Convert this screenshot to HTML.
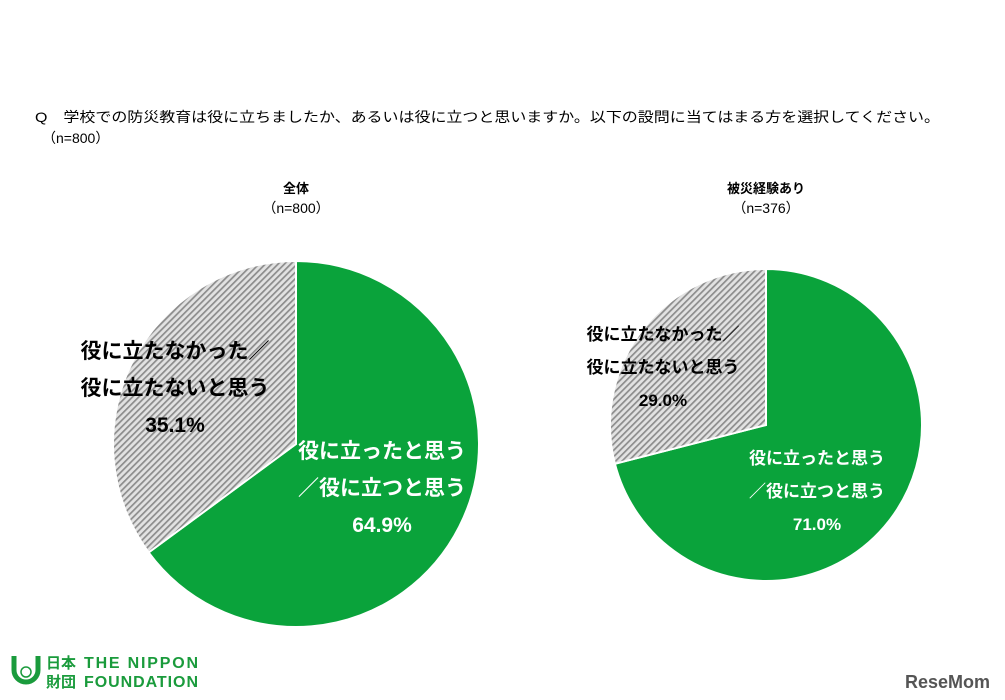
<!DOCTYPE html>
<html><head><meta charset="utf-8"><style>
body{margin:0;background:#fff;font-family:"Liberation Sans","Noto Sans CJK JP",sans-serif}
#wrap{position:relative;width:1005px;height:700px;overflow:hidden}
</style></head><body>
<div id="wrap">
<svg id="svg" width="1005" height="700" xmlns="http://www.w3.org/2000/svg">
<defs>
<pattern id="hatch" width="4.5" height="4.5" patternUnits="userSpaceOnUse" patternTransform="rotate(45)">
<rect width="4.5" height="4.5" fill="#e2e2e2"/>
<rect width="1.7" height="4.5" fill="#8c8c8c"/>
</pattern>
</defs>
<text x="35" y="122" font-size="14" fill="#000" textLength="905" lengthAdjust="spacingAndGlyphs">Q　学校での防災教育は役に立ちましたか、あるいは役に立つと思いますか。以下の設問に当てはまる方を選択してください。</text>
<text x="42" y="143" font-size="14" fill="#000">（n=800）</text>
<text x="296" y="193" font-size="13" font-weight="bold" text-anchor="middle">全体</text>
<text x="296" y="213" font-size="14" text-anchor="middle">（n=800）</text>
<text x="766" y="193" font-size="13" font-weight="bold" text-anchor="middle">被災経験あり</text>
<text x="766" y="213" font-size="14" text-anchor="middle">（n=376）</text>
<g id="pies"></g>
<g>
<path d="M14 656 v14 a12 12 0 0 0 24 0 v-14" fill="none" stroke="#1a9b3c" stroke-width="5"/>
<circle cx="26" cy="672" r="5" fill="none" stroke="#1a9b3c" stroke-width="1.5"/>
<text x="46" y="668" font-size="15" font-weight="bold" fill="#1a9b3c">日本</text>
<text x="46" y="687" font-size="15" font-weight="bold" fill="#1a9b3c">財団</text>
<text x="84" y="668" font-size="16" font-weight="bold" fill="#1a9b3c" textLength="114">THE NIPPON</text>
<text x="84" y="687" font-size="16" font-weight="bold" fill="#1a9b3c" textLength="114">FOUNDATION</text>
</g>
<text x="990" y="688" font-size="18" font-weight="bold" fill="#555" text-anchor="end">ReseMom</text>
</svg>
</div>
<script>
const chartNames = ["all", "affected"];
const helpfulValues = [64.9, 71.0];
const notHelpfulValues = [35.1, 29.0];
const centersX = [296, 766];
const centersY = [444, 425];
const radii = [183, 156];
const NS = "http://www.w3.org/2000/svg";
const g = document.getElementById("pies");
function pt(cx, cy, r, frac){const a = frac*2*Math.PI - Math.PI/2; return [cx + r*Math.cos(a), cy + r*Math.sin(a)];}
function slice(cx, cy, r, f0, f1, fill, name){
  const p0 = pt(cx,cy,r,f0), p1 = pt(cx,cy,r,f1);
  const large = (f1-f0) > 0.5 ? 1 : 0;
  const p = document.createElementNS(NS,"path");
  p.setAttribute("d", `M${cx},${cy} L${p0[0]},${p0[1]} A${r},${r} 0 ${large} 1 ${p1[0]},${p1[1]} Z`);
  p.setAttribute("fill", fill); p.setAttribute("stroke","#fff"); p.setAttribute("stroke-width","2");
  
  
  g.appendChild(p);
}
function label(lines, x, y, size, color, lh, name){
  const t = document.createElementNS(NS,"text");
  t.setAttribute("font-size", size); t.setAttribute("font-weight","bold"); t.setAttribute("fill",color); t.setAttribute("text-anchor","middle");
  
  
  lines.forEach((s,i)=>{const ts=document.createElementNS(NS,"tspan"); ts.setAttribute("x",x); ts.setAttribute("y",y+i*lh); ts.textContent=s; t.appendChild(ts);});
  g.appendChild(t);
}
for(let i=0;i<chartNames.length;i++){
  const tot = helpfulValues[i] + notHelpfulValues[i];
  const f = helpfulValues[i]/tot;
  slice(centersX[i],centersY[i],radii[i],0,f,"#0aa33b","helpful-slice-"+chartNames[i]);
  slice(centersX[i],centersY[i],radii[i],f,1,"url(#hatch)","not-helpful-slice-"+chartNames[i]);
}
label(["役に立ったと思う","／役に立つと思う", helpfulValues[0].toFixed(1)+"%"], 382, 458, 21, "#fff", 37, "helpful-label-all");
label(["役に立たなかった／","役に立たないと思う", notHelpfulValues[0].toFixed(1)+"%"], 175, 358, 21, "#000", 37, "not-helpful-label-all");
label(["役に立ったと思う","／役に立つと思う", helpfulValues[1].toFixed(1)+"%"], 817, 464, 17, "#fff", 33, "helpful-label-affected");
label(["役に立たなかった／","役に立たないと思う", notHelpfulValues[1].toFixed(1)+"%"], 663, 340, 17, "#000", 33, "not-helpful-label-affected");
</script>
</body></html>
